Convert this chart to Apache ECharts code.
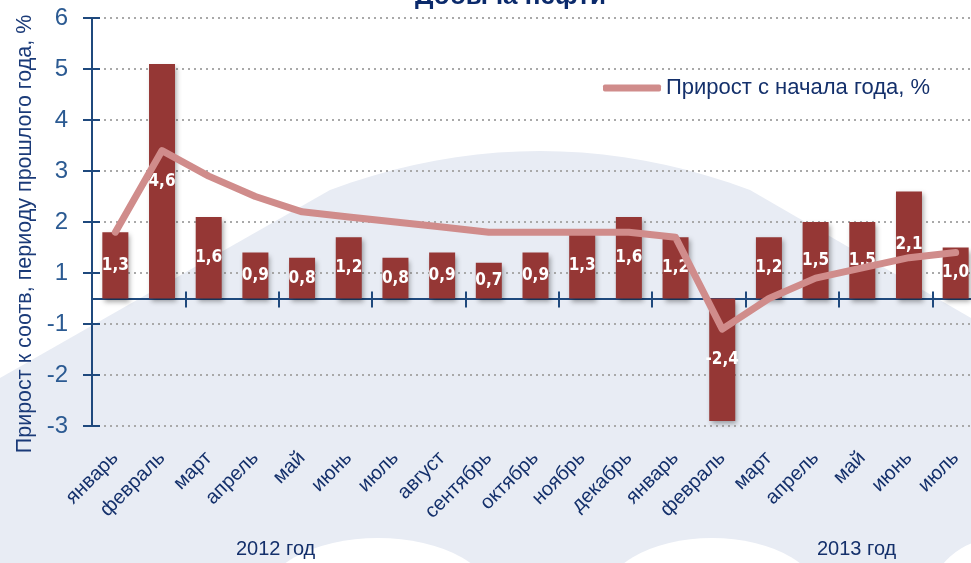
<!DOCTYPE html>
<html>
<head>
<meta charset="utf-8">
<script src="https://cdn.jsdelivr.net/npm/echarts@6/dist/echarts.min.js"></script>
<style>
  html, body { margin: 0; padding: 0; background: #fff; }
  #chart { width: 971px; height: 563px; }
</style>
</head>
<body>
<div id="chart"></div>
<script>
    // месяцы 2012 - 2013
    var months = ['январь', 'февраль', 'март', 'апрель', 'май', 'июнь', 'июль', 'август',
        'сентябрь', 'октябрь', 'ноябрь', 'декабрь', 'январь', 'февраль', 'март', 'апрель',
        'май', 'июнь', 'июль'];
    // прирост к соотв. периоду прошлого года, %
    var yoyGrowth = [1.3, 4.6, 1.6, 0.9, 0.8, 1.2, 0.8, 0.9, 0.7, 0.9, 1.3, 1.6,
        1.2, -2.4, 1.2, 1.5, 1.5, 2.1, 1.0];
    // прирост с начала года, %
    var ytdGrowth = [1.3, 2.9, 2.4, 2.0, 1.7, 1.6, 1.5, 1.4, 1.3, 1.3, 1.3, 1.3,
        1.2, -0.6, 0.0, 0.4, 0.6, 0.8, 0.9];
    var yearLabels = ['2012 год', '2013 год'];

    var navy = '#14306b';
    var axisBlue = '#1f497d';
    var font = 'Liberation Sans, Arial, sans-serif';
    var narrow = 'DejaVu Sans Condensed, Liberation Sans, sans-serif';

    var chart = echarts.init(document.getElementById('chart'));

    function yLabel(v) {
        // подписи оси округлены от нуля: -2.5 -> -3, 0.5 -> 1 ...
        return (v < 0 ? '-' : '') + Math.round(Math.abs(v));
    }

    // фон: светлый "купол"
    var dome = [[0, 378]];
    for (var t = 0; t <= 1.0001; t += 0.05) {
        var x = (1 - t) * (1 - t) * 330 + 2 * t * (1 - t) * 540 + t * t * 750;
        var y = (1 - t) * (1 - t) * 190 + 2 * t * (1 - t) * 112 + t * t * 190;
        dome.push([x, y]);
    }
    dome.push([971, 318], [971, 563], [0, 563]);

    function blob(cx, cy, rx, ry) {
        return {
            type: 'circle', z: -9, silent: true,
            x: cx, y: cy, scaleY: ry / rx,
            shape: { cx: 0, cy: 0, r: rx },
            style: { fill: '#ffffff' }
        };
    }

    var option = {
        backgroundColor: '#ffffff',
        title: {
            text: 'Добыча нефти',
            left: 410,
            top: -21,
            textStyle: { fontFamily: font, fontSize: 26, fontWeight: 'bold', color: '#0b2a6b' }
        },
        graphic: [
            {
                type: 'polygon', z: -10, silent: true,
                shape: { points: dome },
                style: { fill: '#e8ecf4' }
            },
            blob(378, 604, 118, 66),
            blob(712, 604, 112, 66),
            blob(1000, 600, 70, 62),
            {
                type: 'text', left: 236, top: 539,
                style: { text: yearLabels[0], font: '20px ' + font, fill: navy }
            },
            {
                type: 'text', left: 817, top: 539,
                style: { text: yearLabels[1], font: '20px ' + font, fill: navy }
            }
        ],
        legend: {
            left: 598,
            top: 72,
            icon: 'roundRect',
            itemWidth: 58,
            itemHeight: 7,
            itemGap: 4,
            textStyle: { fontFamily: font, fontSize: 22, color: navy },
            data: ['Прирост с начала года, %']
        },
        grid: {
            left: 92,
            top: 18,
            width: 887,
            height: 408,
            containLabel: false,
            outerBoundsMode: 'none'
        },
        xAxis: [
            {
                type: 'category',
                data: months,
                position: 'bottom',
                axisLine: { onZero: true, lineStyle: { color: axisBlue, width: 2 } },
                axisTick: { show: true, length: 9, lineStyle: { color: axisBlue, width: 2 } },
                axisLabel: { show: false }
            },
            {
                type: 'category',
                data: months,
                position: 'bottom',
                axisLine: { show: false, onZero: true },
                axisTick: { show: true, inside: true, length: 7, lineStyle: { color: axisBlue, width: 2 } },
                axisLabel: { show: false }
            },
            {
                type: 'category',
                data: months,
                position: 'bottom',
                axisLine: { show: false, onZero: false },
                axisTick: { show: false },
                axisLabel: {
                    rotate: 45,
                    margin: 29,
                    interval: 0,
                    fontFamily: font,
                    fontSize: 20,
                    color: navy
                }
            }
        ],
        yAxis: [
            {
                type: 'value',
                min: -2.5,
                max: 5.5,
                interval: 1,
                position: 'left',
                name: 'Прирост к соотв, периоду прошлого года, %',
                nameLocation: 'middle',
                nameRotate: 90,
                nameGap: 56,
                nameTextStyle: {
                    fontFamily: font, fontSize: 21.5, color: '#1a3a78',
                    padding: [0, 24, 0, 0]
                },
                axisLine: { show: true, lineStyle: { color: axisBlue, width: 2 } },
                axisTick: { show: true, length: 9, lineStyle: { color: axisBlue, width: 2 } },
                axisLabel: {
                    formatter: yLabel,
                    margin: 24,
                    fontFamily: font,
                    fontSize: 24,
                    color: '#2b5a92'
                },
                splitLine: {
                    show: true,
                    lineStyle: { type: [2, 4], color: '#a9a9a9', width: 2 }
                }
            },
            {
                type: 'value',
                min: -2.5,
                max: 5.5,
                interval: 1,
                position: 'left',
                axisLine: { show: false },
                axisTick: { show: true, inside: true, length: 8, lineStyle: { color: axisBlue, width: 2 } },
                axisLabel: { show: false },
                splitLine: { show: false }
            }
        ],
        series: [
            {
                name: 'Прирост к соотв. периоду прошлого года, %',
                type: 'bar',
                data: yoyGrowth,
                barWidth: 26,
                itemStyle: {
                    color: '#953735',
                    shadowColor: 'rgba(0,0,0,0.35)',
                    shadowBlur: 5,
                    shadowOffsetX: 2,
                    shadowOffsetY: 3
                },
                label: {
                    show: true,
                    position: 'inside',
                    color: '#ffffff',
                    fontFamily: narrow,
                    fontWeight: 'bold',
                    fontSize: 17,
                    formatter: function (p) {
                        return p.value.toFixed(1).replace('.', ',');
                    }
                },
                z: 2
            },
            {
                name: 'Прирост с начала года, %',
                type: 'line',
                data: ytdGrowth,
                color: '#d08c8b',
                symbol: 'none',
                lineStyle: { width: 7, color: '#d08c8b', cap: 'round', join: 'round' },
                z: 3
            }
        ]
    };

    chart.setOption(option);
</script>
</body>
</html>
